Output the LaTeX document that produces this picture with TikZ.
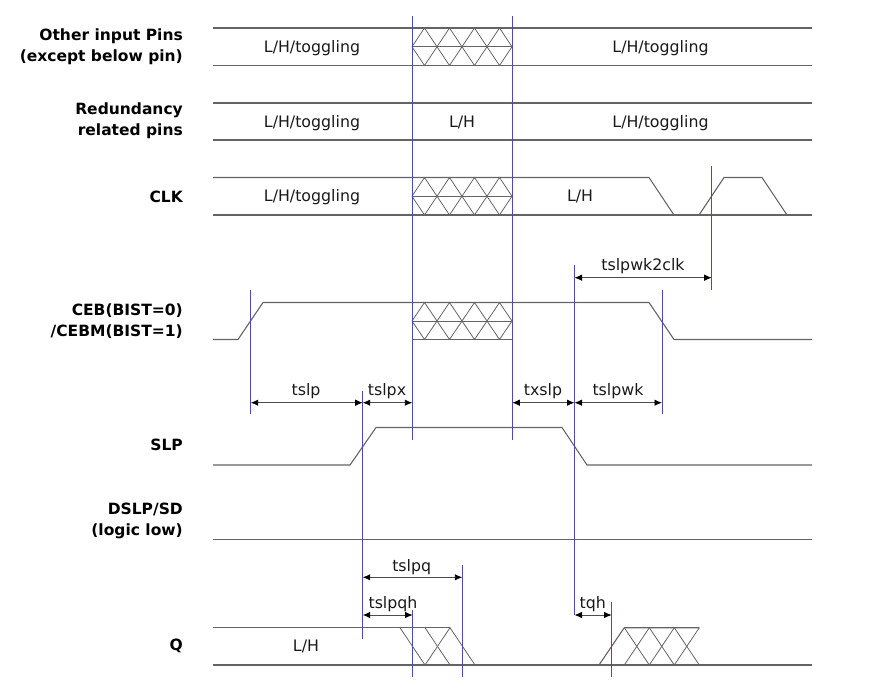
\documentclass[tikz,border=0pt]{standalone}
\usepackage{fontspec}
\setmainfont{DejaVu Sans}
\usetikzlibrary{arrows.meta}
\definecolor{vline}{RGB}{78,72,190}
\definecolor{wave}{RGB}{100,100,100}
\tikzset{
  wv/.style={draw=wave, line width=1.1pt, line join=miter},
  guide/.style={draw=vline, line width=1pt},
  dim/.style={draw=black!70, line width=0.9pt, {Latex[length=7.5pt,width=6.5pt,color=black]}-{Latex[length=7.5pt,width=6.5pt,color=black]}},
  lbl/.style={font=\fontsize{15.5}{21}\selectfont\bfseries, align=right, anchor=east, inner sep=0pt},
  val/.style={font=\fontsize{15.8}{18}\selectfont, inner sep=0pt, anchor=base, text=black!90},
  hatch/.style={draw=wave, line width=0.8pt},
}
\newcommand\myhatch[3]{% x start, y top, y bottom
  \pgfmathsetmacro\mymid{(#2+#3)/2}
  \foreach \i in {0,1,2,3}{
    \pgfmathsetmacro\xa{#1+25*\i}
    \draw[hatch] (\xa,\mymid) -- (\xa+12.5,#2) -- (\xa+25,\mymid) -- (\xa+12.5,#3) -- cycle;
  }
  \draw[hatch] (#1,\mymid) -- (#1+100,\mymid);
}
\begin{document}
\begin{tikzpicture}[x=1pt,y=-1pt]
\useasboundingbox (0,0) rectangle (871,699);

% pin labels
\node[lbl] (p1) at (183,46.5) {Other input Pins\\(except below pin)};
\node[lbl] (p2) at (183,121) {Redundancy\\related pins};
\node[lbl] (p3) at (183,196.5) {CLK};
\node[lbl] (p4) at (183,321) {CEB(BIST=0)\\/CEBM(BIST=1)};
\node[lbl] (p5) at (183,445) {SLP};
\node[lbl] (p6) at (183,520.5) {DSLP/SD\\(logic low)};
\node[lbl] (p7) at (183,645.5) {Q};

% row 1
\draw[wv] (213,28) -- (812,28);
\draw[wv] (213,65.5) -- (812,65.5);
\myhatch{412}{28}{65.5}
\node[val] (v1a) at (312,52.3) {L/H/toggling};
\node[val] (v1b) at (660.5,52.3) {L/H/toggling};

% row 2
\draw[wv] (213,103) -- (812,103);
\draw[wv] (213,140) -- (812,140);
\node[val] (v2a) at (312,127) {L/H/toggling};
\node[val] (v2b) at (462,127) {L/H};
\node[val] (v2c) at (660.5,127) {L/H/toggling};

% CLK
\draw[wv] (213,215) -- (812,215);
\draw[wv] (213,177.5) -- (649,177.5) -- (674,215);
\draw[wv] (699,215) -- (724,177.5) -- (762,177.5) -- (787,215);
\myhatch{412}{177.5}{215}
\node[val] (v3a) at (312,201.8) {L/H/toggling};
\node[val] (v3b) at (580,201.8) {L/H};

% CEB
\draw[wv] (213,339.5) -- (238,339.5) -- (263,302.5) -- (649,302.5) -- (674,339.5) -- (812,339.5);
\draw[wv] (412,339.5) -- (512,339.5);
\myhatch{412}{302.5}{339.5}

% SLP
\draw[wv] (213,465) -- (350,465) -- (376,427.5) -- (562,427.5) -- (587,465) -- (812,465);

% DSLP/SD
\draw[wv] (213,539.5) -- (812,539.5);

% Q
\draw[wv] (213,665) -- (812,665);
\draw[wv] (213,627.7) -- (450,627.7);
\draw[hatch] (400,627.7) -- (425,665) -- (450,627.7) -- (475,665);
\draw[hatch] (425,627.7) -- (450,665);
\draw[wv] (599,665) -- (624.3,627.7) -- (699.3,627.7);
\foreach \k in {0,1,2}{
  \draw[hatch] (624.3+25*\k,627.7) -- (649.3+25*\k,665);
  \draw[hatch] (624.3+25*\k,665) -- (649.3+25*\k,627.7);
}
\node[val] (vq) at (306,651.9) {L/H};

% guide lines
\draw[guide] (412.3,16) -- (412.3,440);
\draw[guide] (512.3,16) -- (512.3,440);
\draw[guide] (711.7,166) -- (711.7,290);
\draw[guide] (574.5,265) -- (574.5,615);
\draw[guide] (662,290) -- (662,414);
\draw[guide] (250.7,290) -- (250.7,414);
\draw[guide] (362.7,390.7) -- (362.7,639);
\draw[guide] (412.7,610) -- (412.7,677);
\draw[guide] (462.3,565) -- (462.3,677);
\draw[guide] (611.7,602) -- (611.7,677);

% dimension coordinates
\coordinate (a1) at (574.5,277.7); \coordinate (b1) at (711.7,277.7);
\coordinate (a2) at (250.7,402.7); \coordinate (b2) at (362.7,402.7);
\coordinate (b3) at (412.3,402.7);
\coordinate (a4) at (512.3,402.7); \coordinate (b4) at (574.5,402.7);
\coordinate (b5) at (662,402.7);
\coordinate (a6) at (362.7,577.3); \coordinate (b6) at (462.3,577.3);
\coordinate (a7) at (362.7,615); \coordinate (b7) at (412.7,615);
\coordinate (a8) at (574.5,615); \coordinate (b8) at (611.7,615);

\draw[dim] (a1) -- (b1);
\draw[dim] (a2) -- (b2);
\draw[dim] (b2) -- (b3);
\draw[dim] (a4) -- (b4);
\draw[dim] (b4) -- (b5);
\draw[dim] (a6) -- (b6);
\draw[dim] (a7) -- (b7);
\draw[dim] (a8) -- (b8);

\node[val] (d1) at (643,270) {tslpwk2clk};
\node[val] (d2) at (306,395) {tslp};
\node[val] (d3) at (387,395) {tslpx};
\node[val] (d4) at (543,395) {txslp};
\node[val] (d5) at (618,395) {tslpwk};
\node[val] (d6) at (411.7,571.7) {tslpq};
\node[val] (d7) at (393,608.3) {tslpqh};
\node[val] (d8) at (592.7,608.3) {tqh};
\end{tikzpicture}
\end{document}
